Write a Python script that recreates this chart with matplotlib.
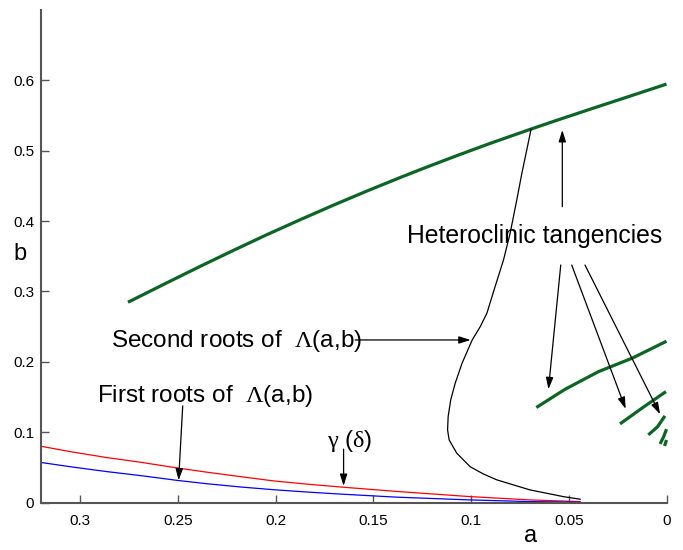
import matplotlib.pyplot as plt

plt.rcParams['font.family'] = ['Liberation Sans', 'DejaVu Sans']
plt.rcParams['mathtext.fontset'] = 'custom'
plt.rcParams['mathtext.rm'] = 'Liberation Serif'
plt.rcParams['mathtext.it'] = 'Liberation Serif'

# values
green_a = [0.2755, 0.2555, 0.2385, 0.2215, 0.2044, 0.1874, 0.1703, 0.1533, 0.1362,
           0.1243, 0.1073, 0.0902, 0.0689, 0.0561, 0.0391, 0.0221, 0.0]
green_b = [0.2847, 0.3125, 0.3358, 0.3585, 0.3808, 0.4020, 0.4228, 0.4427, 0.4620,
           0.4750, 0.4930, 0.5105, 0.5312, 0.5433, 0.5590, 0.5745, 0.5947]

arcs_a = [[0.0666, 0.0521, 0.0348, 0.0175, 0.0],
          [0.0238, 0.0119, 0.0003],
          [0.0093, 0.0046, 0.0008],
          [0.0033, 0.0015, 0.0],
          [0.0010, 0.0]]
arcs_b = [[0.1351, 0.1607, 0.1861, 0.2053, 0.2293],
          [0.1118, 0.1355, 0.1577],
          [0.0962, 0.1077, 0.1232],
          [0.0834, 0.0933, 0.1043],
          [0.0805, 0.0890]]

second_a = [0.0693, 0.0715, 0.0740, 0.0766, 0.0800, 0.0834, 0.0877, 0.0919, 0.0953,
            0.0994, 0.1046, 0.1081, 0.1104, 0.1117, 0.1120, 0.1112, 0.1073, 0.1005,
            0.0938, 0.0868, 0.0698, 0.0528, 0.0442]
second_b = [0.5304, 0.5010, 0.4679, 0.4300, 0.3827, 0.3447, 0.3068, 0.2690, 0.2500,
            0.2311, 0.1980, 0.1696, 0.1459, 0.1222, 0.1033, 0.0891, 0.0702, 0.0511,
            0.0408, 0.0323, 0.0180, 0.0085, 0.0048]

red_a = [0.32, 0.3033, 0.2862, 0.2692, 0.2496, 0.2351, 0.2180, 0.2010, 0.1839,
         0.1669, 0.1379, 0.1005, 0.0698, 0.0442]
red_b = [0.0800, 0.0716, 0.0639, 0.0574, 0.0489, 0.0432, 0.0369, 0.0308, 0.0262,
         0.0222, 0.0158, 0.0085, 0.0038, 0.0014]

blue_a = [0.32, 0.3033, 0.2862, 0.2692, 0.2496, 0.2351, 0.2180, 0.2010, 0.1839,
          0.1669, 0.1379, 0.1005, 0.0698, 0.0442]
blue_b = [0.0570, 0.0503, 0.0440, 0.0384, 0.0313, 0.0268, 0.0222, 0.0183, 0.0150,
          0.0121, 0.0077, 0.0038, 0.0014, 0.0006]

xticks = [0.3, 0.25, 0.2, 0.15, 0.1, 0.05, 0]
yticks = [0, 0.1, 0.2, 0.3, 0.4, 0.5, 0.6]

green = '#0b6623'
spine = '#555555'

fig = plt.figure(figsize=(6.83, 5.5), dpi=100)
ax = fig.add_axes([41 / 683, 0.0862, 625.5 / 683, 0.8956])

ax.plot(green_a, green_b, color=green, lw=2.3, solid_capstyle='butt')
for xa, xb in zip(arcs_a, arcs_b):
    ax.plot(xa, xb, color=green, lw=2.3, solid_capstyle='butt', clip_on=False)
ax.plot(second_a, second_b, color='black', lw=0.9)
ax.plot(red_a, red_b, color='red', lw=0.9)
ax.plot(blue_a, blue_b, color='blue', lw=0.9)

ax.set_xlim(0.32, 0)
ax.set_ylim(0, 0.7)
ax.set_xticks(xticks)
ax.set_xticklabels([str(t) for t in xticks])
ax.set_yticks(yticks)
ax.set_yticklabels([str(t) for t in yticks])
ax.tick_params(direction='in', length=6, width=1, color=spine, labelsize=11, pad=5)
ax.tick_params(axis='x', pad=8)
for s in ['top', 'right']:
    ax.spines[s].set_visible(False)
for s in ['left', 'bottom']:
    ax.spines[s].set_color(spine)
    ax.spines[s].set_linewidth(1.5)

ax.set_xlabel('a', fontsize=17, va='center')
ax.xaxis.set_label_coords(0.782, -0.068)
ax.set_ylabel('b', fontsize=17, rotation=0, ha='center', va='center')
ax.yaxis.set_label_coords(-0.034, 0.505)

arrow = dict(arrowstyle='-|>,head_length=0.7,head_width=0.22', color='black',
             lw=0.9, shrinkA=0, shrinkB=0)

ax.text(0.1328, 0.3693, 'Heteroclinic tangencies', fontsize=17.8, va='baseline')
ax.annotate('', xy=(0.0533, 0.5294), xytext=(0.0533, 0.4205), arrowprops=arrow)
ax.annotate('', xy=(0.0604, 0.1611), xytext=(0.0541, 0.3376), arrowprops=arrow)
ax.annotate('', xy=(0.0209, 0.1331), xytext=(0.0485, 0.3376), arrowprops=arrow)
ax.annotate('', xy=(0.0033, 0.1256), xytext=(0.0417, 0.3376), arrowprops=arrow)

ax.text(0.2842, 0.2216, r'Second roots of  $\Lambda$(a,b)', fontsize=17.5, va='baseline')
ax.annotate('', xy=(0.1002, 0.2311), xytext=(0.1593, 0.2311), arrowprops=arrow)

ax.text(0.2913, 0.1435, r'First roots of  $\Lambda$(a,b)', fontsize=17.5, va='baseline')
ax.annotate('', xy=(0.2496, 0.0315), xytext=(0.2475, 0.1374), arrowprops=arrow)

ax.text(0.1737, 0.0795, r'$\gamma$ ($\delta$)', fontsize=17.5, va='baseline')
ax.annotate('', xy=(0.1652, 0.0237), xytext=(0.1652, 0.0759), arrowprops=arrow)

plt.savefig('out.png', dpi=100)
